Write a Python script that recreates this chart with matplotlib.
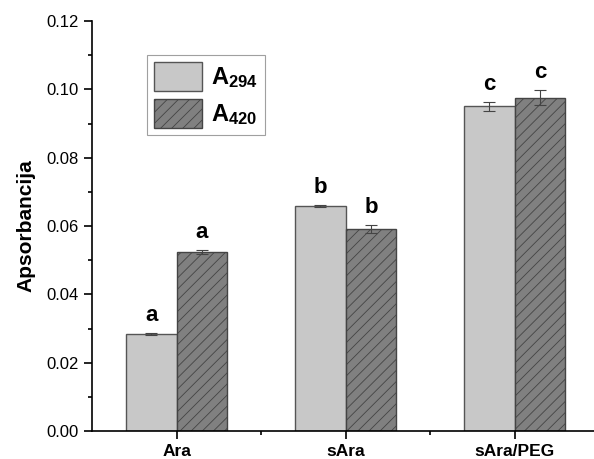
import numpy as np
import matplotlib
matplotlib.use('Agg')
import matplotlib.pyplot as plt

plt.rcParams['font.family'] = ['Liberation Sans', 'DejaVu Sans']
plt.rcParams['mathtext.fontset'] = 'custom'
plt.rcParams['mathtext.rm'] = 'Liberation Sans:bold'
plt.rcParams['mathtext.bf'] = 'Liberation Sans:bold'
plt.rcParams['mathtext.it'] = 'Liberation Sans:bold'
plt.rcParams['hatch.color'] = '#333333'
plt.rcParams['hatch.linewidth'] = 0.6

samples = ['Ara', 'sAra', 'sAra/PEG']
a294 = [0.0284, 0.0659, 0.0951]
a294_err = [0.0002, 0.0004, 0.0013]
a420 = [0.0525, 0.0591, 0.0976]
a420_err = [0.0006, 0.0012, 0.0022]
letters = ['a', 'b', 'c']

fig = plt.figure(figsize=(5.94, 4.59), dpi=100)
ax = fig.add_axes([0.155, 0.061, 0.845, 0.893])

x = np.arange(len(samples))
w = 0.3
ax.bar(x - w / 2, a294, w, color='#c8c8c8', edgecolor='#555555', linewidth=1.0,
       label='A$_{\\mathbf{294}}$')
ax.bar(x + w / 2, a420, w, color='#808080', edgecolor='#444444', linewidth=1.0,
       hatch='///', label='A$_{\\mathbf{420}}$')
ax.errorbar(x - w / 2, a294, yerr=a294_err, fmt='none', ecolor='#444444',
            elinewidth=0.8, capsize=4, capthick=0.8)
ax.errorbar(x + w / 2, a420, yerr=a420_err, fmt='none', ecolor='#444444',
            elinewidth=0.8, capsize=4, capthick=0.8)

for xi, v, e, l in zip(x - w / 2, a294, a294_err, letters):
    ax.annotate(l, (xi, v + e), xytext=(0, 5), textcoords='offset points',
                ha='center', va='bottom', fontsize=16, fontweight='bold')
for xi, v, e, l in zip(x + w / 2, a420, a420_err, letters):
    ax.annotate(l, (xi, v + e), xytext=(0, 5), textcoords='offset points',
                ha='center', va='bottom', fontsize=16, fontweight='bold')

ax.set_xlim(-0.5, 2.47)
ax.set_ylim(0, 0.12)
ax.set_yticks(np.arange(0, 0.121, 0.02))
ax.set_yticks(np.arange(0.01, 0.12, 0.02), minor=True)
ax.set_yticklabels(['%.2f' % t for t in np.arange(0, 0.121, 0.02)], fontsize=12)
ax.set_xticks(x)
ax.set_xticks([0.5, 1.5], minor=True)
ax.set_xticklabels(samples, fontsize=12.5, fontweight='bold')
ax.tick_params(which='major', length=6, width=1.2, direction='out')
ax.tick_params(which='minor', length=3, width=1.2, direction='out')
ax.spines['top'].set_visible(False)
ax.spines['right'].set_visible(False)
for s in ['left', 'bottom']:
    ax.spines[s].set_linewidth(1.2)
ax.set_ylabel('Apsorbancija', fontsize=15, fontweight='bold', labelpad=8)

leg = ax.legend(loc='upper left', bbox_to_anchor=(0.11, 0.917), fancybox=False,
                edgecolor='#888888', handlelength=2.0, handleheight=1.5,
                prop={'size': 17, 'weight': 'bold'}, borderpad=0.3,
                labelspacing=0.35, handletextpad=0.4, borderaxespad=0)
leg.get_frame().set_linewidth(0.8)

fig.savefig('out.png', dpi=100)
